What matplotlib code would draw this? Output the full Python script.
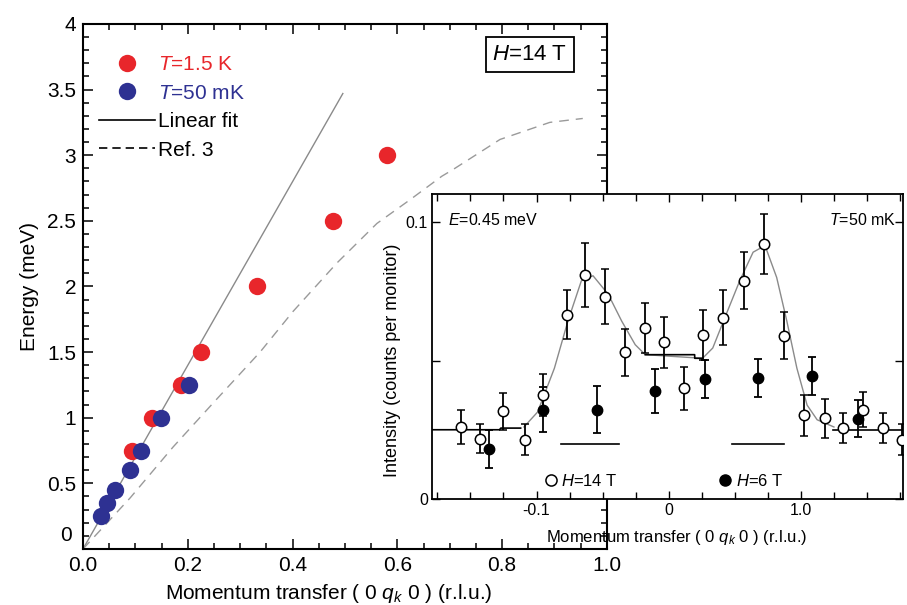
import numpy as np
import matplotlib.pyplot as plt
from matplotlib.lines import Line2D
from matplotlib.ticker import MultipleLocator, FuncFormatter

plt.rcParams['font.family'] = ['Liberation Sans', 'DejaVu Sans']
plt.rcParams['mathtext.fontset'] = 'custom'
plt.rcParams['mathtext.rm'] = 'Liberation Sans'
plt.rcParams['mathtext.it'] = 'Liberation Sans:italic'

# main panel: dispersion
q_red = [0.094, 0.132, 0.187, 0.225, 0.333, 0.477, 0.581]
E_red = [0.75, 1.0, 1.25, 1.5, 2.0, 2.5, 3.0]
q_blue = [0.035, 0.046, 0.062, 0.089, 0.110, 0.148, 0.202]
E_blue = [0.25, 0.35, 0.45, 0.60, 0.75, 1.0, 1.25]
fit_q = [0.0, 0.496]
fit_E = [0.0, 3.47]
ref_q = [0.0, 0.090, 0.172, 0.248, 0.338, 0.401, 0.485, 0.561, 0.624, 0.685, 0.706, 0.796, 0.891, 0.954]
ref_E = [0.0, 0.389, 0.777, 1.11, 1.50, 1.81, 2.18, 2.48, 2.66, 2.84, 2.89, 3.12, 3.25, 3.28]

# inset: constant-energy scan
q_open = [-0.157, -0.143, -0.125, -0.109, -0.095, -0.077, -0.063, -0.048, -0.033, -0.018, -0.0035, 0.0115,
          0.026, 0.041, 0.057, 0.072, 0.087, 0.102, 0.118, 0.132, 0.147, 0.162, 0.176]
I_open = [0.0260, 0.0217, 0.0317, 0.0214, 0.0375, 0.0666, 0.0809, 0.0731, 0.0529, 0.0618, 0.0565, 0.0399,
          0.0593, 0.0654, 0.0788, 0.0921, 0.0590, 0.0302, 0.0292, 0.0256, 0.0323, 0.0256, 0.0214]
err_open = [0.0060, 0.0052, 0.0067, 0.0055, 0.0075, 0.0089, 0.0116, 0.0099, 0.0086, 0.0091, 0.0091, 0.0079,
            0.0091, 0.0099, 0.0103, 0.0109, 0.0086, 0.0073, 0.0070, 0.0055, 0.0064, 0.0055, 0.0055]
q_full = [-0.136, -0.095, -0.054, -0.0106, 0.0276, 0.0676, 0.108, 0.143]
I_full = [0.0181, 0.0323, 0.0323, 0.0390, 0.0433, 0.0436, 0.0445, 0.0290]
err_full = [0.0069, 0.0081, 0.0085, 0.0079, 0.0069, 0.0069, 0.0069, 0.0067]
curve_q = [-0.1095, -0.0992, -0.0865, -0.0763, -0.0661, -0.0573, -0.0458, -0.0356, -0.0254, -0.0178,
           0.0255, 0.0332, 0.0433, 0.0536, 0.0637, 0.0727, 0.0815, 0.0892, 0.0968, 0.1045, 0.1121, 0.1248]
curve_I = [0.0260, 0.0314, 0.0472, 0.0642, 0.0788, 0.0806, 0.0739, 0.0642, 0.0557, 0.0521,
           0.0508, 0.0545, 0.0666, 0.0788, 0.0891, 0.0915, 0.0800, 0.0642, 0.0472, 0.0339, 0.0286, 0.0260]
bg_left_q = [-0.179, -0.128, -0.127, -0.112]
bg_left_I = [0.0250, 0.0250, 0.0256, 0.0256]
bg_mid_q = [-0.0178, 0.0195, 0.0196, 0.0255]
bg_mid_I = [0.0521, 0.0521, 0.0508, 0.0508]
bg_right_q = [0.124, 0.177]
bg_right_I = [0.0250, 0.0250]
res_bars = [(-0.0814, -0.0377), (0.048, 0.0867)]
res_level = 0.0199

red = '#e8262b'
blue = '#2e3192'

fig = plt.figure(figsize=(9.07, 6.05), dpi=100)
ax = fig.add_axes([0.0915, 0.0926, 0.5776, 0.8678])

ax.plot(fit_q, fit_E, color='#8a8a8a', lw=1.0, zorder=1)
ax.plot(ref_q, ref_E, color='#9a9a9a', lw=1.0, dashes=(7, 5), zorder=1)
ax.plot(q_red, E_red, 'o', color=red, ms=12.5, mec='none', zorder=2)
ax.plot(q_blue, E_blue, 'o', color=blue, ms=12.5, mec='none', zorder=3)

ax.set_xlim(0, 1.0)
ax.set_ylim(0, 4)
ax.xaxis.set_major_locator(MultipleLocator(0.2))
ax.xaxis.set_minor_locator(MultipleLocator(0.05))
ax.yaxis.set_major_locator(MultipleLocator(0.5))
ax.yaxis.set_minor_locator(MultipleLocator(0.1))
ax.xaxis.set_major_formatter(FuncFormatter(lambda v, p: '%.1f' % v))
# the "0" of the energy axis sits a little higher, drawn separately below
ax.yaxis.set_major_formatter(FuncFormatter(lambda v, p: '' if abs(v) < 1e-9 else '%g' % v))
ax.tick_params(which='both', direction='in', top=True, right=True, labelsize=15, width=1.1, pad=5)
ax.tick_params(which='major', length=7)
ax.tick_params(which='minor', length=4)
for s in ax.spines.values():
    s.set_linewidth(1.5)
ax.text(-0.021, 0.025, '0', transform=ax.transAxes, fontsize=15, ha='right', va='center')
ax.set_xlabel(r'Momentum transfer ( 0 $q_k$ 0 ) (r.l.u.)', fontsize=15, labelpad=2)
ax.xaxis.set_label_coords(0.47, -0.062)
ax.set_ylabel('Energy (meV)', fontsize=15, labelpad=6)

handles = [
    Line2D([], [], marker='o', ls='none', color=red, ms=12.5, mec='none'),
    Line2D([], [], marker='o', ls='none', color=blue, ms=12.5, mec='none'),
    Line2D([], [], color='black', lw=1.2),
    Line2D([], [], color='black', lw=1.2, dashes=(5, 3)),
]
labels = [r'$T$=1.5 K', r'$T$=50 mK', 'Linear fit', 'Ref. 3']
leg = ax.legend(handles, labels, loc='upper left', bbox_to_anchor=(0.01, 0.96), frameon=False,
                fontsize=15, handlelength=2.7, handletextpad=0.15, labelspacing=0.45, borderpad=0)
for t, c in zip(leg.get_texts(), [red, blue, 'black', 'black']):
    t.set_color(c)

ax.text(0.853, 0.942, r'$H$=14 T', transform=ax.transAxes, fontsize=16, ha='center', va='center',
        bbox=dict(boxstyle='square,pad=0.3', fc='white', ec='black', lw=1.3))

# inset
ins = fig.add_axes([0.4763, 0.1752, 0.5193, 0.5041])
ins.set_facecolor('white')
ins.plot(curve_q, curve_I, color='#8a8a8a', lw=1.0, zorder=1)
for xs, ys in [(bg_left_q, bg_left_I), (bg_mid_q, bg_mid_I), (bg_right_q, bg_right_I)]:
    ins.plot(xs, ys, color='black', lw=1.2, zorder=1)
for a, b in res_bars:
    ins.plot([a, b], [res_level, res_level], color='black', lw=1.2)
ins.errorbar(q_full, I_full, yerr=err_full, fmt='o', color='black', ms=7.5, mfc='black', mec='black',
             elinewidth=1.3, capsize=3, capthick=1.3, zorder=2)
ins.errorbar(q_open, I_open, yerr=err_open, fmt='o', color='black', ms=7.5, mfc='white', mec='black',
             mew=1.1, elinewidth=1.3, capsize=3, capthick=1.3, zorder=3)

ins.set_xlim(-0.179, 0.177)
ins.set_ylim(0, 0.1101)
ins.set_xticks([-0.1, 0.0, 0.1])
ins.set_xticklabels(['-0.1', '0', '1.0'])
ins.xaxis.set_minor_locator(MultipleLocator(0.025))
ins.set_yticks([0, 0.05, 0.1])
ins.set_yticklabels(['0', '', '0.1'])
ins.tick_params(which='both', direction='in', top=True, right=True, labelsize=11.5, width=1.0, pad=3)
ins.tick_params(which='major', length=6)
ins.tick_params(which='minor', length=5)
for s in ins.spines.values():
    s.set_linewidth(1.3)
ins.set_xlabel(r'Momentum transfer ( 0 $q_k$ 0 ) (r.l.u.)', fontsize=12, labelpad=2)
ins.xaxis.set_label_coords(0.52, -0.095)
ins.set_ylabel('Intensity (counts per monitor)', fontsize=13)
ins.yaxis.set_label_coords(-0.065, 0.456)

ins.text(0.035, 0.915, r'$E$=0.45 meV', transform=ins.transAxes, fontsize=11.5, va='center')
ins.text(0.985, 0.915, r'$T$=50 mK', transform=ins.transAxes, fontsize=11.5, va='center', ha='right')

ih = [Line2D([], [], marker='o', ls='none', color='black', mfc='white', ms=8, mew=1.1),
      Line2D([], [], marker='o', ls='none', color='black', mfc='black', ms=8)]
ins.legend(ih, [r'$H$=14 T', r'$H$=6 T'], ncol=2, loc='center left', bbox_to_anchor=(0.22, 0.06),
           frameon=False, fontsize=12, handlelength=0.8, handletextpad=0.25, columnspacing=6.0, borderpad=0)

fig.savefig('out.png', dpi=100)
